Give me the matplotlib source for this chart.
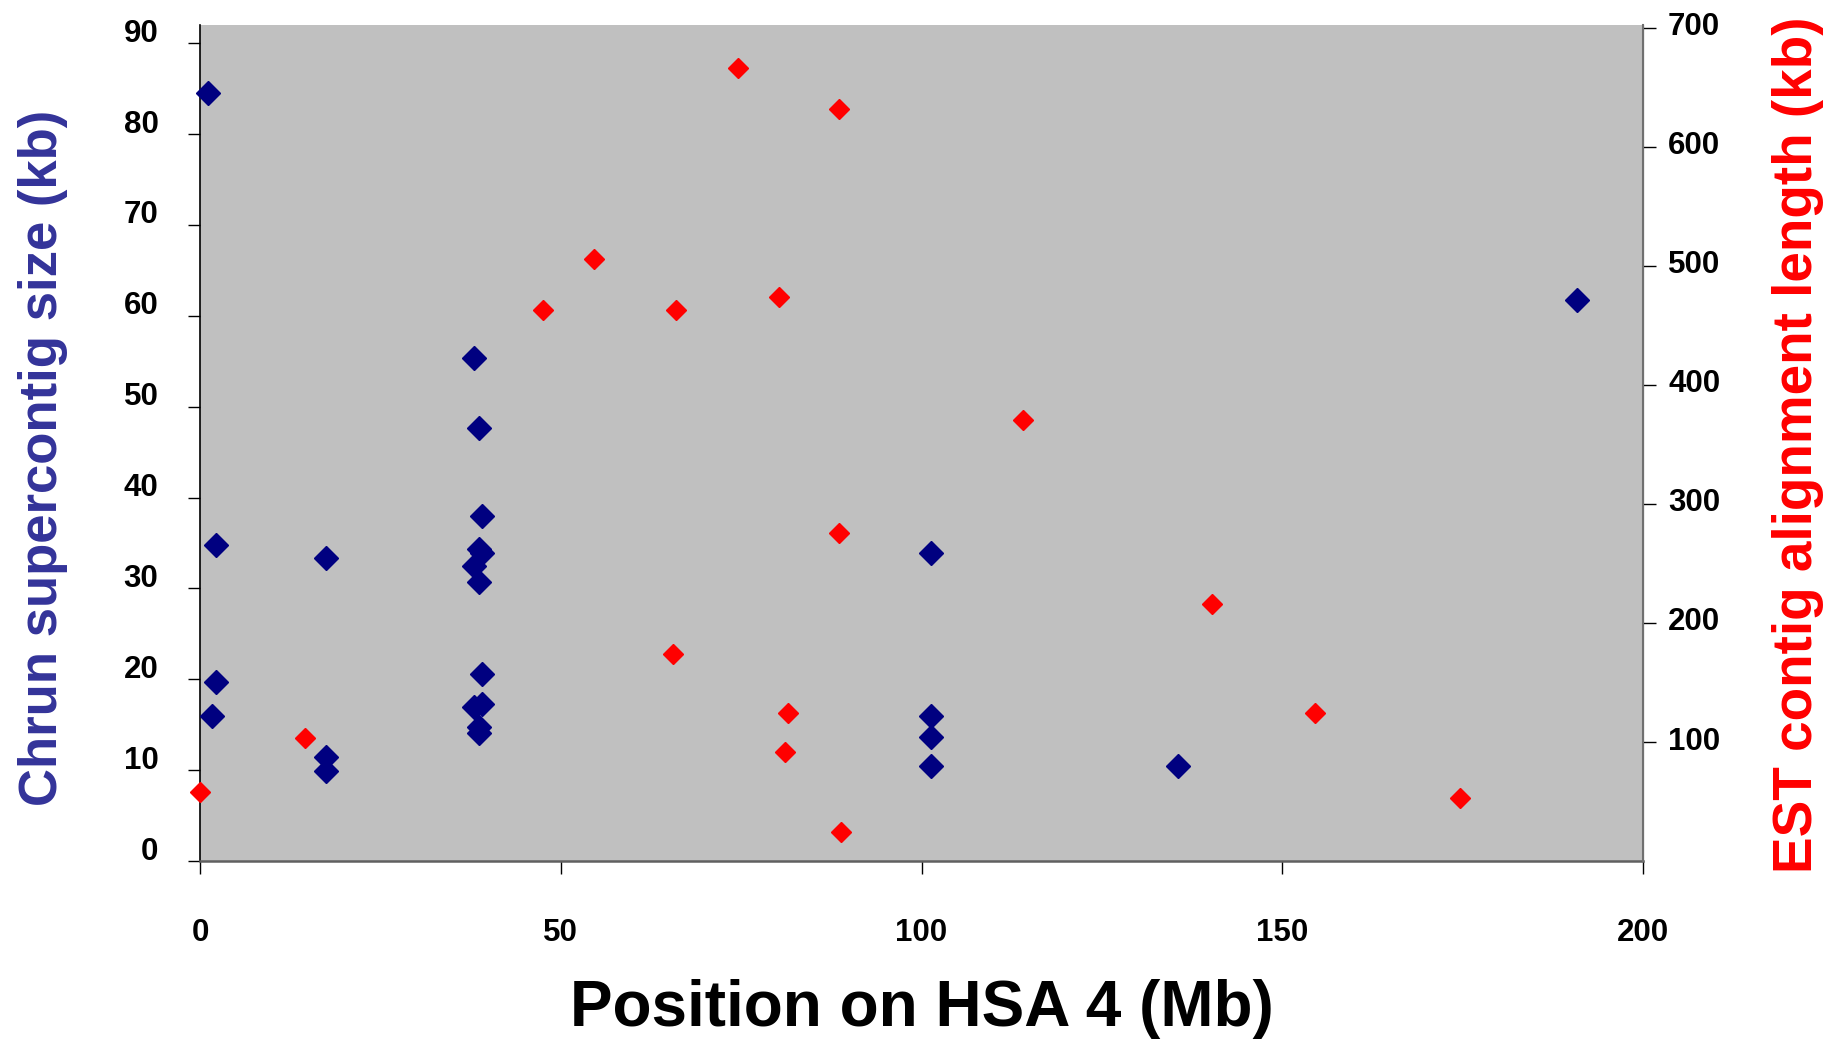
import numpy as np
import matplotlib
matplotlib.use("Agg")
import matplotlib.pyplot as plt
from matplotlib.transforms import ScaledTranslation

plt.rcParams['font.family'] = ['Liberation Sans', 'DejaVu Sans']
plt.rcParams['font.weight'] = 'bold'

# Chrun supercontigs (left axis, kb)
chrun_pos = [1.1, 2.2, 17.5, 2.2, 1.7, 17.5, 17.5,
             38.0, 38.6, 39.1, 38.6, 39.1, 38.0, 38.6,
             39.1, 39.1, 38.0, 38.6, 38.6,
             101.3, 101.3, 101.3, 101.3, 135.6, 190.9]
chrun_size = [84.5, 34.8, 33.4, 19.7, 16.0, 11.4, 9.9,
              55.4, 47.7, 38.0, 34.3, 33.9, 32.5, 30.7,
              20.6, 17.3, 16.9, 14.7, 14.1,
              33.9, 16.0, 13.6, 10.5, 10.5, 61.7]

# EST contigs (right axis, kb)
est_pos = [0.0, 14.6, 47.6, 54.6, 65.9, 74.6, 80.2, 88.5, 114.1,
           88.5, 65.5, 81.5, 81.1, 88.9, 140.2, 154.5, 174.6]
est_len = [58, 103, 463, 506, 463, 666, 474, 632, 371,
           276, 174, 124, 92, 24, 216, 124, 53]

x_ticks = [0, 50, 100, 150, 200]
left_ticks = [0, 10, 20, 30, 40, 50, 60, 70, 80, 90]
right_ticks = [100, 200, 300, 400, 500, 600, 700]

fig = plt.figure(figsize=(18.27, 10.42), dpi=100)
ax = fig.add_axes([0.1095, 0.1737, 0.7898, 0.8023])
ax.set_facecolor('#C0C0C0')
ax2 = ax.twinx()

ax.plot(chrun_pos, chrun_size, linestyle='none', marker='D', ms=12.5,
        color='#000080', clip_on=False, zorder=3)
ax2.plot(est_pos, est_len, linestyle='none', marker='D', ms=10.3,
         color='#FF0000', clip_on=False, zorder=3)

ax.set_xlim(0, 200)
ax.set_ylim(0, 92)
ax2.set_ylim(0, 702.5)
ax.set_xticks(x_ticks)
ax.set_yticks(left_ticks)
ax2.set_yticks(right_ticks)

ax.spines['top'].set_visible(False)
ax2.spines['top'].set_visible(False)
ax.spines['left'].set_color('black')
ax.spines['left'].set_linewidth(1.2)
ax.spines['bottom'].set_color('#606060')
ax.spines['bottom'].set_linewidth(1.8)
ax2.spines['right'].set_color('#707070')
ax2.spines['right'].set_linewidth(1.5)
ax2.spines['left'].set_visible(False)
ax2.spines['bottom'].set_visible(False)

ax.tick_params(axis='y', direction='out', length=9, width=1, labelsize=22.5, pad=21)
ax.tick_params(axis='x', direction='out', length=9, width=1, labelsize=22.5, pad=32)
ax2.tick_params(axis='y', direction='out', length=9, width=1, labelsize=22.5, pad=9)

# tick labels sit a little above their ticks
for lab in ax.get_yticklabels():
    lab.set_transform(lab.get_transform() + ScaledTranslation(0, 13/100, fig.dpi_scale_trans))
for lab in ax2.get_yticklabels():
    lab.set_transform(lab.get_transform() + ScaledTranslation(0, 4/100, fig.dpi_scale_trans))

fig.text(0.0235, 0.561, 'Chrun supercontig size (kb)', rotation=90, ha='center', va='center',
         fontsize=38, fontweight='bold', color='#333399')
fig.text(0.984, 0.573, 'EST contig alignment length (kb)', rotation=90, ha='center', va='center',
         fontsize=39.5, fontweight='bold', color='#FF0000')
fig.text(0.5045, 0.032, 'Position on HSA 4 (Mb)', ha='center', va='center',
         fontsize=46, fontweight='bold', color='black')

fig.savefig('out.png', dpi=100)
